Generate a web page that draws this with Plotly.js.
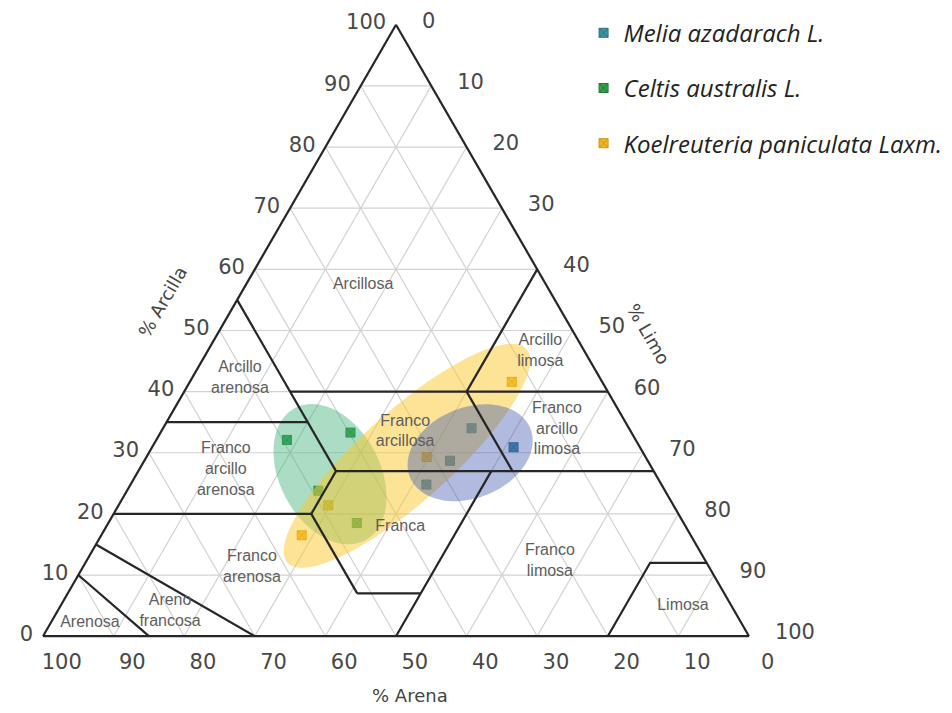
<!DOCTYPE html>
<html>
<head>
<meta charset="utf-8">
<script src="https://cdn.plot.ly/plotly-3.0.1.min.js"></script>
<style>
  html, body { margin: 0; padding: 0; background: #ffffff; }
  #chart { width: 952px; height: 713px; }
</style>
</head>
<body>
<div id="chart"></div>
<script>
// ---------- Data (clay %, sand %, silt %) ----------
const seriesNames = ["Melia azadarach L.", "Celtis australis L.", "Koelreuteria paniculata Laxm."];

const meliaClay = [34.0, 30.9, 28.7, 24.8];
const meliaSand = [22.3, 17.9, 28.0, 33.3];
const meliaSilt = [43.7, 51.2, 43.3, 41.9];

const celtisClay = [32.1, 33.3, 23.8, 18.5];
const celtisSand = [49.4, 39.8, 49.1, 46.3];
const celtisSilt = [18.5, 26.9, 27.1, 35.2];

const koelClay = [41.6, 29.3, 21.4, 16.5];
const koelSand = [12.8, 31.0, 48.9, 55.1];
const koelSilt = [45.6, 39.7, 29.7, 28.4];

// Group ellipses: centre (clay, silt), semi-axes (% of side), tilt (deg)
const ellipseCentreClay = [26.5, 29.5, 30.0];
const ellipseCentreSilt = [27.4, 36.8, 45.5];
const ellipseSemiMajor = [10.6, 22.7, 9.2];
const ellipseSemiMinor = [7.1, 6.4, 6.4];
const ellipseTilt = [-62, 41.8, 22];

// USDA texture class boundaries, each polyline as [clay, sand, silt] vertices
const boundaries = [
  [[55, 45, 0], [27, 45, 28]],
  [[40, 45, 15], [40, 0, 60]],
  [[35, 65, 0], [35, 45, 20]],
  [[60, 0, 40], [40, 20, 40]],
  [[40, 20, 40], [27, 20, 53]],
  [[27, 45, 28], [27, 0, 73]],
  [[27, 45, 28], [20, 52, 28]],
  [[20, 80, 0], [20, 52, 28]],
  [[20, 52, 28], [7, 52, 41]],
  [[7, 52, 41], [7, 43, 50]],
  [[27, 23, 50], [0, 50, 50]],
  [[15, 85, 0], [0, 70, 30]],
  [[10, 90, 0], [0, 85, 15]],
  [[12, 0, 88], [12, 8, 80], [0, 20, 80]]
];

// Texture class names and their label positions
const classNames = ["Arcillosa", "Arcillo<br>limosa", "Arcillo<br>arenosa", "Franco<br>arcillosa",
  "Franco<br>arcillo<br>limosa", "Franco<br>arcillo<br>arenosa", "Franca", "Franco<br>arenosa",
  "Franco<br>limosa", "Areno<br>francosa", "Arenosa", "Limosa"];
const classClay = [57.5, 46.5, 42.2, 33.4, 33.8, 27.2, 17.8, 11.2, 12.2, 4.0, 2.1, 4.9];
const classSand = [25.9, 6.3, 51.0, 32.0, 10.3, 60.5, 40.5, 64.8, 22.1, 80.0, 92.3, 6.9];
const classSilt = [16.6, 47.2, 6.8, 34.6, 55.9, 12.3, 41.7, 24.0, 65.7, 16.0, 5.6, 88.2];

// ---------- Build traces ----------
const colors = ["#3f93a6", "#35a04a", "#f4b61c"];
const lineColors = ["#2d6f80", "#237a35", "#d09410"];
const ellipseFill = ["rgba(64,177,124,0.44)", "rgba(250,200,45,0.5)", "rgba(60,85,175,0.4)"];

function markerTrace(i, a, b, c) {
  return {
    type: "scatterternary", mode: "markers", name: seriesNames[i],
    a: a, b: b, c: c, legendgroup: "g" + i,
    marker: { symbol: "square-x", size: 9, color: colors[i], line: { color: lineColors[i], width: 1 } },
    hoverinfo: "a+b+c+name"
  };
}

function ellipseTrace(i) {
  const s3 = Math.sqrt(3) / 2;
  const Xc = ellipseCentreSilt[i] + ellipseCentreClay[i] / 2;
  const Yc = ellipseCentreClay[i] * s3;
  const th = ellipseTilt[i] * Math.PI / 180;
  const A = [], B = [], C = [];
  for (let k = 0; k <= 120; k++) {
    const ph = 2 * Math.PI * k / 120;
    const X = Xc + ellipseSemiMajor[i] * Math.cos(ph) * Math.cos(th) - ellipseSemiMinor[i] * Math.sin(ph) * Math.sin(th);
    const Y = Yc + ellipseSemiMajor[i] * Math.cos(ph) * Math.sin(th) + ellipseSemiMinor[i] * Math.sin(ph) * Math.cos(th);
    const clay = Y / s3;
    const silt = X - clay / 2;
    A.push(clay); C.push(silt); B.push(100 - clay - silt);
  }
  return {
    type: "scatterternary", mode: "lines", a: A, b: B, c: C,
    fill: "toself", fillcolor: ellipseFill[i], line: { width: 0, color: "rgba(0,0,0,0)" },
    showlegend: false, hoverinfo: "skip"
  };
}

const bA = [], bB = [], bC = [];
boundaries.forEach(seg => {
  seg.forEach(p => { bA.push(p[0]); bB.push(p[1]); bC.push(p[2]); });
  bA.push(null); bB.push(null); bC.push(null);
});

const traces = [
  markerTrace(0, meliaClay, meliaSand, meliaSilt),
  markerTrace(1, celtisClay, celtisSand, celtisSilt),
  markerTrace(2, koelClay, koelSand, koelSilt),
  ellipseTrace(0), ellipseTrace(1), ellipseTrace(2),
  {
    type: "scatterternary", mode: "lines", a: bA, b: bB, c: bC,
    line: { color: "#262626", width: 2.2 }, connectgaps: false,
    showlegend: false, hoverinfo: "skip"
  },
  {
    type: "scatterternary", mode: "text", a: classClay, b: classSand, c: classSilt,
    text: classNames, textposition: "middle center",
    textfont: { family: "Liberation Sans, Arial, sans-serif", size: 16, color: "#5e5e5e" },
    showlegend: false, hoverinfo: "skip"
  }
];

const tickFont = { family: "DejaVu Sans, sans-serif", size: 21, color: "#484848" };
const axisCommon = {
  title: { text: "" }, min: 0, dtick: 10, tick0: 0,
  showline: true, linecolor: "#262626", linewidth: 2.2,
  showgrid: true, gridcolor: "#d2d2d2", gridwidth: 1.2,
  ticks: "outside", ticklen: 6, tickcolor: "rgba(0,0,0,0)",
  tickfont: tickFont
};

const titleFont = { family: "DejaVu Sans, sans-serif", size: 18, color: "#444444" };

const layout = {
  width: 952, height: 713,
  margin: { l: 0, r: 0, t: 0, b: 0 },
  paper_bgcolor: "#ffffff",
  showlegend: true,
  legend: {
    x: 0.613, y: 0.985, xanchor: "left", yanchor: "top",
    traceorder: "grouped", tracegroupgap: 21,
    font: { family: "Open Sans, sans-serif", size: 24, color: "#222222", style: "italic" },
    bgcolor: "rgba(255,255,255,0)"
  },
  ternary: {
    sum: 100,
    domain: { x: [43 / 952, 749 / 952], y: [0.0765, 0.9965] },
    bgcolor: "rgba(0,0,0,0)",
    aaxis: Object.assign({}, axisCommon),
    baxis: Object.assign({}, axisCommon, { tickprefix: "\u2002\u2002\u2002" }),
    caxis: Object.assign({}, axisCommon, { ticklen: 2, tickprefix: "\u2002\u2002" })
  },
  annotations: [
    { text: "% Arcilla", xref: "paper", yref: "paper", x: 163 / 952, y: 1 - 302 / 713,
      xanchor: "center", yanchor: "middle",
      showarrow: false, textangle: -60, font: titleFont },
    { text: "% Limo", xref: "paper", yref: "paper", x: 648 / 952, y: 1 - 334 / 713,
      xanchor: "center", yanchor: "middle",
      showarrow: false, textangle: 60, font: titleFont },
    { text: "% Arena", xref: "paper", yref: "paper", x: 410 / 952, y: 1 - 695 / 713,
      xanchor: "center", yanchor: "middle",
      showarrow: false, font: titleFont }
  ]
};

Plotly.newPlot("chart", traces, layout, { displayModeBar: false, staticPlot: true });
</script>
</body>
</html>
